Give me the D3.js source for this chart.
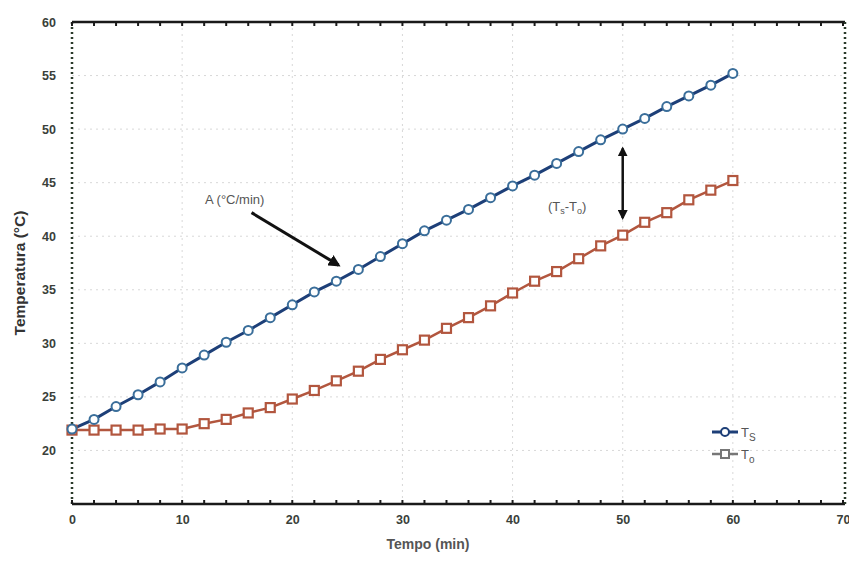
<!DOCTYPE html>
<html>
<head>
<meta charset="utf-8">
<script src="https://cdn.jsdelivr.net/npm/d3@7"></script>
<style>
  html, body { margin: 0; padding: 0; background: #fff; }
  svg { display: block; font-family: "Liberation Sans", Arial, sans-serif; }
</style>
</head>
<body>
<svg id="chart" width="849" height="563"></svg>
<script>
// ---- data ----
const time = [0,2,4,6,8,10,12,14,16,18,20,22,24,26,28,30,32,34,36,38,40,42,44,46,48,50,52,54,56,58,60];
const Ts = [22.0,22.9,24.1,25.2,26.4,27.7,28.9,30.1,31.2,32.4,33.6,34.8,35.8,36.9,38.1,39.3,40.5,41.5,42.5,43.6,44.7,45.7,46.8,47.9,49.0,50.0,51.0,52.1,53.1,54.1,55.2];
const To = [21.9,21.9,21.9,21.9,22.0,22.0,22.5,22.9,23.5,24.0,24.8,25.6,26.5,27.4,28.5,29.4,30.3,31.4,32.4,33.5,34.7,35.8,36.7,37.9,39.1,40.1,41.3,42.2,43.4,44.3,45.2];
const xTicks = [0,10,20,30,40,50,60,70];
const yTicks = [20,25,30,35,40,45,50,55,60];
const xLabel = "Tempo (min)";
const yLabel = "Temperatura (°C)";

const svg = d3.select("#chart");
const L = 72, R = 843, T = 22, B = 504;
const x = d3.scaleLinear().domain([0,70]).range([L,R]);
const y = d3.scaleLinear().domain([15,60]).range([B,T]);

const colTs = "#1d3f78", colTsMark = "#3a6e9a";
const colTo = "#b2563e";
const axisCol = "#1a1a1a";
const txtCol = "#3a3f3a";

// grid
const g = svg.append("g");
g.selectAll(".gx").data(xTicks.slice(1,-1)).join("line")
  .attr("x1", d=>x(d)).attr("x2", d=>x(d)).attr("y1", T).attr("y2", B)
  .attr("stroke", "#d8d8d8").attr("stroke-dasharray","2,4").attr("stroke-width",1);
g.selectAll(".gy").data(yTicks.slice(0,-1)).join("line")
  .attr("y1", d=>y(d)).attr("y2", d=>y(d)).attr("x1", L).attr("x2", R)
  .attr("stroke", "#d8d8d8").attr("stroke-dasharray","2,4").attr("stroke-width",1);

// frame
svg.append("line").attr("x1",L).attr("x2",R+2).attr("y1",T).attr("y2",T).attr("stroke",axisCol).attr("stroke-width",2.5);
svg.append("line").attr("x1",L).attr("x2",R+2).attr("y1",B).attr("y2",B).attr("stroke",axisCol).attr("stroke-width",2.5);
svg.append("line").attr("x1",L).attr("x2",L).attr("y1",T).attr("y2",B).attr("stroke","#2a3a2a").attr("stroke-width",2.5).attr("stroke-dasharray","2,3");
svg.append("line").attr("x1",R+2).attr("x2",R+2).attr("y1",T).attr("y2",B).attr("stroke","#2a3a2a").attr("stroke-width",2.5).attr("stroke-dasharray","2,3");

// minor ticks on top and bottom
const minorX = d3.range(0,71,2);
svg.append("g").selectAll("line").data(minorX).join("line")
  .attr("x1",d=>x(d)).attr("x2",d=>x(d)).attr("y1",B).attr("y2",B-4).attr("stroke",axisCol).attr("stroke-width",2);
svg.append("g").selectAll("line").data(minorX).join("line")
  .attr("x1",d=>x(d)).attr("x2",d=>x(d)).attr("y1",T).attr("y2",T+4).attr("stroke",axisCol).attr("stroke-width",2);

// axes labels via d3 axes
const xAxis = d3.axisBottom(x).tickValues(xTicks).tickSize(0).tickPadding(11).tickFormat(d3.format("d"));
const xa = svg.append("g").attr("transform",`translate(0,${B})`).call(xAxis);
xa.select(".domain").remove();
xa.selectAll("text").attr("font-size",12.5).attr("font-weight","bold").attr("fill",txtCol).attr("font-family","Liberation Sans, Arial, sans-serif");

const yAxis = d3.axisLeft(y).tickValues(yTicks).tickSize(0).tickPadding(16).tickFormat(d3.format("d"));
const ya = svg.append("g").attr("transform",`translate(${L},0)`).call(yAxis);
ya.select(".domain").remove();
ya.selectAll("text").attr("font-size",12.5).attr("font-weight","bold").attr("fill",txtCol).attr("font-family","Liberation Sans, Arial, sans-serif");

// axis titles
svg.append("text").attr("x",428).attr("y",549).attr("text-anchor","middle")
  .attr("font-size",14).attr("font-weight","bold").attr("fill","#555").text(xLabel);
svg.append("text").attr("transform","translate(25,273) rotate(-90)").attr("text-anchor","middle")
  .attr("font-size",15.5).attr("font-weight","bold").attr("fill","#333").text(yLabel);

// series
const line = (arr) => d3.line().x((d,i)=>x(time[i])).y(d=>y(d))(arr);
svg.append("path").attr("d", line(To)).attr("fill","none").attr("stroke",colTo).attr("stroke-width",2.5);
svg.append("path").attr("d", line(Ts)).attr("fill","none").attr("stroke",colTs).attr("stroke-width",3);

svg.append("g").selectAll("rect").data(To).join("rect")
  .attr("x",(d,i)=>x(time[i])-4.5).attr("y",d=>y(d)-4.5).attr("width",9).attr("height",9)
  .attr("fill","#fff").attr("stroke",colTo).attr("stroke-width",2.2);
svg.append("g").selectAll("circle").data(Ts).join("circle")
  .attr("cx",(d,i)=>x(time[i])).attr("cy",d=>y(d)).attr("r",4.5)
  .attr("fill","#fff").attr("stroke",colTsMark).attr("stroke-width",2);

// arrow markers
const defs = svg.append("defs");
defs.append("marker").attr("id","ah").attr("viewBox","0 0 10 10").attr("refX",8).attr("refY",5)
  .attr("markerWidth",4).attr("markerHeight",4).attr("orient","auto-start-reverse")
  .append("path").attr("d","M0,0 L10,5 L0,10 z").attr("fill","#111");

// annotation A
svg.append("text").attr("x",205).attr("y",204).attr("font-size",13).attr("fill","#555").text("A (°C/min)");
svg.append("line").attr("x1",x(16.3)).attr("y1",y(42.2)).attr("x2",x(24.2)).attr("y2",y(37.3))
  .attr("stroke","#111").attr("stroke-width",3).attr("marker-end","url(#ah)");

// annotation Ts-To
const ann = svg.append("text").attr("x",548).attr("y",211).attr("font-size",13).attr("fill","#555");
ann.append("tspan").text("(T");
ann.append("tspan").attr("font-size",9).attr("dy",3).text("s");
ann.append("tspan").attr("dy",-3).text("-T");
ann.append("tspan").attr("font-size",9).attr("dy",3).text("o");
ann.append("tspan").attr("dy",-3).text(")");
svg.append("line").attr("x1",x(50)).attr("x2",x(50)).attr("y1",y(48.2)).attr("y2",y(41.7))
  .attr("stroke","#111").attr("stroke-width",2.5)
  .attr("marker-start","url(#ah)").attr("marker-end","url(#ah)");

// legend
const leg = svg.append("g").attr("transform","translate(712,432)");
leg.append("line").attr("x1",0).attr("x2",26).attr("y1",0).attr("y2",0).attr("stroke",colTs).attr("stroke-width",3);
leg.append("circle").attr("cx",13).attr("cy",0).attr("r",4).attr("fill","#fff").attr("stroke",colTs).attr("stroke-width",2);
const t1 = leg.append("text").attr("x",29).attr("y",5).attr("font-size",13).attr("fill","#555");
t1.append("tspan").text("T"); t1.append("tspan").attr("font-size",10).attr("dy",4).text("S");
leg.append("line").attr("x1",0).attr("x2",26).attr("y1",22).attr("y2",22).attr("stroke","#777").attr("stroke-width",2.5);
leg.append("rect").attr("x",9).attr("y",18).attr("width",8).attr("height",8).attr("fill","#fff").attr("stroke","#777").attr("stroke-width",2);
const t2 = leg.append("text").attr("x",29).attr("y",27).attr("font-size",13).attr("fill","#555");
t2.append("tspan").text("T"); t2.append("tspan").attr("font-size",10).attr("dy",4).text("o");
</script>
</body>
</html>
